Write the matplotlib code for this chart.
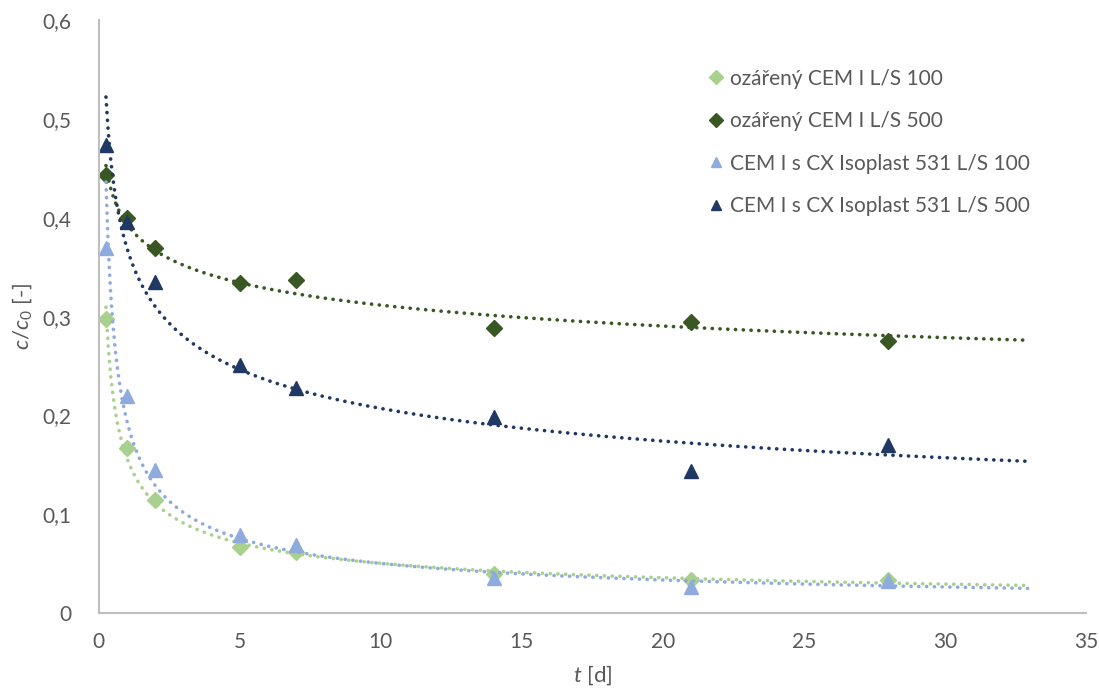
import numpy as np
import matplotlib
matplotlib.use("Agg")
from matplotlib import pyplot as plt
from matplotlib.ticker import FuncFormatter

# time in days
t = [0.25, 1, 2, 5, 7, 14, 21, 28]

# c/c0 values
ozareny_100 = [0.298, 0.167, 0.114, 0.067, 0.062, 0.040, 0.033, 0.033]
ozareny_500 = [0.443, 0.400, 0.369, 0.334, 0.337, 0.289, 0.295, 0.275]
cx_100 = [0.369, 0.220, 0.145, 0.079, 0.069, 0.035, 0.026, 0.032]
cx_500 = [0.474, 0.396, 0.335, 0.251, 0.228, 0.198, 0.144, 0.170]

labels = ["ozářený CEM I L/S 100", "ozářený CEM I L/S 500",
          "CEM I s CX Isoplast 531 L/S 100", "CEM I s CX Isoplast 531 L/S 500"]
colors = ["#A9D18E", "#385723", "#8FAADC", "#203864"]
markers = ["D", "D", "^", "^"]
msizes = [8.5, 8.5, 10.5, 10.5]

plt.rcParams['font.family'] = ['Lato', 'DejaVu Sans']
plt.rcParams['mathtext.fontset'] = 'custom'
plt.rcParams['mathtext.it'] = 'Lato:italic'
plt.rcParams['mathtext.rm'] = 'Lato'

fig = plt.figure(figsize=(10.99, 6.99), dpi=100)
ax = fig.add_axes([0.090, 0.123, 0.898, 0.848])

tx = np.array(t)
t_fit = np.linspace(0.25, 33, 400)
series = [ozareny_100, ozareny_500, cx_100, cx_500]
for y, lab, col, mk, ms in zip(series, labels, colors, markers, msizes):
    ax.plot(t, y, linestyle="none", marker=mk, color=col, markersize=ms, label=lab)
    # power trendline (like Excel)
    b, lna = np.polyfit(np.log(tx), np.log(np.array(y)), 1)
    ax.plot(t_fit, np.exp(lna) * t_fit ** b, color=col, lw=2.6,
            linestyle=(0, (0.05, 2.1)), dash_capstyle="round")

ax.set_xlim(0, 35)
ax.set_ylim(0, 0.6)
ax.set_xticks(range(0, 36, 5))
ax.set_yticks(np.arange(0, 0.61, 0.1))
ax.yaxis.set_major_formatter(FuncFormatter(lambda v, p: "0" if abs(v) < 1e-9 else ("%.1f" % v).replace(".", ",")))

for s in ["top", "right"]:
    ax.spines[s].set_visible(False)
for s in ["left", "bottom"]:
    ax.spines[s].set_color("#BFBFBF")
    ax.spines[s].set_linewidth(1.5)
ax.tick_params(length=0, labelsize=15, colors="#595959")
ax.tick_params(axis="y", pad=20)
ax.tick_params(axis="x", pad=14)

ax.set_xlabel(r"$t$ [d]", fontsize=16, color="#595959", labelpad=8)
ax.set_ylabel(r"$c/c_{\mathit{0}}$ [-]", fontsize=16, color="#595959", labelpad=6)

leg = ax.legend(loc="upper right", bbox_to_anchor=(0.962, 0.95), frameon=False,
                fontsize=15, handletextpad=0.05, handlelength=1.2, labelspacing=1.08,
                labelcolor="#595959")
for h in leg.legend_handles:
    h.set_markersize(7.5)

fig.savefig("out.png", dpi=100)
